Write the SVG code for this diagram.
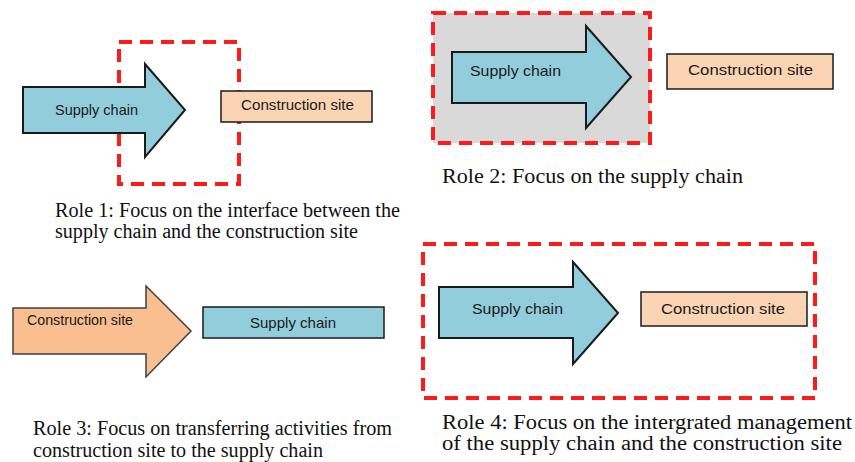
<svg xmlns="http://www.w3.org/2000/svg" width="855" height="462" viewBox="0 0 855 462">
<style>
.dash{fill:none;stroke:#ff1a1a;stroke-width:4;stroke-dasharray:13 8}
.blue{fill:#92cddc;stroke:#1a1a1a;stroke-width:2;stroke-linejoin:miter}
.peach{fill:#fbd4b4;stroke:#1a1a1a;stroke-width:1.5}
.orange{fill:#f9bf91;stroke:#404040;stroke-width:1.5}
.lbl{font-family:"Liberation Sans",Arial,sans-serif;font-size:15px;fill:#1a1a1a}
.cap{font-family:"Liberation Serif","Times New Roman",serif;font-size:20px;fill:#111}
</style>
<rect width="855" height="462" fill="#fff"/>
<!-- Role 1 -->
<g id="role1">
<rect class="dash" x="119" y="42" width="120" height="142"/>
<g id="r1-supply"><path class="blue" d="M23,87 H145 V64 L185,110 L145,157 V133 H23 Z"/><text class="lbl" x="55" y="115" font-size="14.4" textLength="83" lengthAdjust="spacingAndGlyphs">Supply chain</text></g>
<g id="r1-site"><rect class="peach" x="221" y="91" width="151" height="31"/><text class="lbl" x="241" y="110" textLength="113" lengthAdjust="spacingAndGlyphs">Construction site</text></g>
<text class="cap" x="55" y="217" textLength="345" lengthAdjust="spacingAndGlyphs">Role 1: Focus on the interface between the</text>
<text class="cap" x="55" y="238" textLength="303" lengthAdjust="spacingAndGlyphs">supply chain and the construction site</text>
</g>
<!-- Role 2 -->
<g id="role2">
<rect x="433" y="13" width="217" height="130" fill="#d9d9d9" stroke="#ff1a1a" stroke-width="4" stroke-dasharray="13 8"/>
<g id="r2-supply"><path class="blue" d="M452,52 H586 V26 L631,77 L586,128 V103 H452 Z"/><text class="lbl" x="470" y="76" font-size="15.8" textLength="91" lengthAdjust="spacingAndGlyphs">Supply chain</text></g>
<g id="r2-site"><rect class="peach" x="667" y="54" width="166" height="35"/><text class="lbl" x="688" y="75" font-size="16.6" textLength="125" lengthAdjust="spacingAndGlyphs">Construction site</text></g>
<text class="cap" x="442" y="183" textLength="301" lengthAdjust="spacingAndGlyphs">Role 2: Focus on the supply chain</text>
</g>
<!-- Role 3 -->
<g id="role3">
<g id="r3-site"><path class="orange" d="M13,308 H146 V286 L191,331 L146,377 V354 H13 Z"/><text class="lbl" x="27" y="325" font-size="14.4" textLength="106" lengthAdjust="spacingAndGlyphs">Construction site</text></g>
<g id="r3-supply"><rect x="203" y="307" width="181" height="31" fill="#92cddc" stroke="#1a1a1a" stroke-width="1.5"/><text class="lbl" x="250" y="328" font-size="14.9" textLength="86" lengthAdjust="spacingAndGlyphs">Supply chain</text></g>
<text class="cap" x="33" y="435" textLength="359" lengthAdjust="spacingAndGlyphs">Role 3: Focus on transferring activities from</text>
<text class="cap" x="33" y="457" textLength="290" lengthAdjust="spacingAndGlyphs">construction site to the supply chain</text>
</g>
<!-- Role 4 -->
<g id="role4">
<rect class="dash" x="423" y="244" width="392" height="154"/>
<g id="r4-supply"><path class="blue" d="M439,287 H573 V262 L618,313 L573,364 V338 H439 Z"/><text class="lbl" x="472" y="314" font-size="15.8" textLength="91" lengthAdjust="spacingAndGlyphs">Supply chain</text></g>
<g id="r4-site"><rect class="peach" x="641" y="292" width="166" height="34"/><text class="lbl" x="661" y="314" font-size="16.6" textLength="124" lengthAdjust="spacingAndGlyphs">Construction site</text></g>
<text class="cap" x="442" y="429" textLength="410" lengthAdjust="spacingAndGlyphs">Role 4: Focus on the intergrated management</text>
<text class="cap" x="442" y="450" textLength="400" lengthAdjust="spacingAndGlyphs">of the supply chain and the construction site</text>
</g>
</svg>
